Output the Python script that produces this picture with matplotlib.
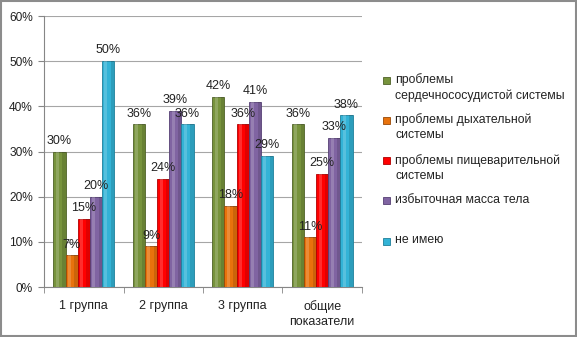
import numpy as np
import matplotlib
matplotlib.use("Agg")
import matplotlib.pyplot as plt
from matplotlib.patches import Rectangle

plt.rcParams['font.family'] = ['Liberation Sans', 'DejaVu Sans']

categories = ["1 группа", "2 группа", "3 группа", "общие\nпоказатели"]
series_names = [
    "проблемы\nсердечнососудистой системы",
    "проблемы дыхательной\nсистемы",
    "проблемы пищеварительной\nсистемы",
    "избыточная масса тела",
    "не имею",
]
cardio = [30, 36, 42, 36]
respiratory = [7, 9, 18, 11]
digestive = [15, 24, 36, 25]
overweight = [20, 39, 41, 33]
none_ = [50, 36, 29, 38]
series = [cardio, respiratory, digestive, overweight, none_]
colors = ["#77933C", "#E8720C", "#FF0000", "#8064A2", "#33B3D6"]
edge_colors = ["#4F6228", "#984807", "#B00000", "#553F73", "#1F7F99"]

fig = plt.figure(figsize=(5.77, 3.37), dpi=100)
fig.patch.set_facecolor("white")
ax = fig.add_axes([0.0763, 0.148, 0.551, 0.8045])

n = len(series)
width = 0.153
x = np.arange(len(categories))
for i, (vals, c, ec) in enumerate(zip(series, colors, edge_colors)):
    pos = x + (i - (n - 1) / 2) * width
    bars = ax.bar(pos, vals, width=width, color=c, edgecolor=ec, linewidth=0.6, zorder=3)
    for b, v in zip(bars, vals):
        # soft cylindrical highlight
        bx, bw = b.get_x(), b.get_width()
        ax.add_patch(Rectangle((bx + bw * 0.2, 0), bw * 0.25, v, facecolor="white",
                               alpha=0.18, linewidth=0, zorder=4))
        ax.add_patch(Rectangle((bx + bw * 0.72, 0), bw * 0.28, v, facecolor="black",
                               alpha=0.12, linewidth=0, zorder=4))
        ax.annotate(f"{v}%", (bx + bw / 2, v), xytext=(0, 3.5), textcoords="offset points",
                    ha="center", va="bottom", fontsize=9, color="#222222", zorder=5)

ax.set_xlim(-0.5, len(categories) - 0.5)
ax.set_ylim(0, 60)
ax.set_yticks(np.arange(0, 61, 10))
ax.set_yticklabels([f"{t}%" for t in range(0, 61, 10)], fontsize=8.6, color="#222222")
ax.yaxis.grid(True, color="#A6A6A6", linewidth=0.8, zorder=0)
ax.set_axisbelow(True)

ax.set_xticks(x)
ax.set_xticklabels(categories, fontsize=9, color="#222222", linespacing=1.35)
ax.tick_params(axis="x", length=0, pad=9)
ax.set_xticks(np.arange(-0.5, len(categories)), minor=True)
ax.tick_params(axis="x", which="minor", length=4, color="#868686")
ax.tick_params(axis="y", length=4, color="#868686", pad=4)

for s in ["top", "right"]:
    ax.spines[s].set_visible(False)
ax.spines["left"].set_color("#868686")
ax.spines["bottom"].set_color("#868686")

# legend entries, evenly spaced
W, H = 577, 337
leg_x, leg_y0, leg_step = 383, 80, 40.3
for k, (name, c, ec) in enumerate(zip(series_names, colors, edge_colors)):
    yc = leg_y0 + k * leg_step
    fig.add_artist(Rectangle((leg_x / W, 1 - (yc + 3.5) / H), 7 / W, 7 / H,
                             transform=fig.transFigure, facecolor=c, edgecolor=ec,
                             linewidth=0.6))
    fig.text((leg_x + 12) / W, 1 - (yc - 7) / H, name, fontsize=8.8, color="#222222",
             ha="left", va="top", linespacing=1.35)

fig.add_artist(Rectangle((0.001, 0.002), 0.997, 0.995, transform=fig.transFigure,
                         fill=False, edgecolor="#8C8C8C", linewidth=1.5))

fig.savefig("out.png", dpi=100)
